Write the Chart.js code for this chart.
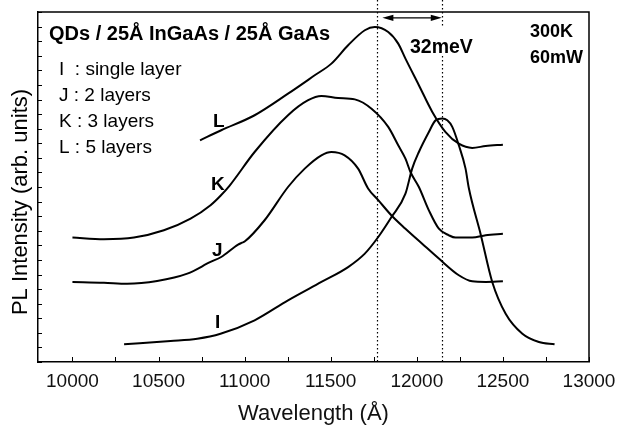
<!DOCTYPE html>
<html>
<head>
<meta charset="utf-8">
<script src="https://cdn.jsdelivr.net/npm/chart.js@4.4.1/dist/chart.umd.min.js"></script>
<style>
  html, body { margin: 0; padding: 0; background: #fff; }
  #wrap { width: 617px; height: 427px; }
</style>
</head>
<body>
<div id="wrap"><canvas id="plChart" width="617" height="427"></canvas></div>
<script>
// PL spectra, wavelength in Angstrom, intensity in arb. units (offset per curve)
const iWave = [10300, 10570, 10725, 10860, 11058, 11252, 11446, 11601, 11698, 11776, 11853, 11934, 11973, 12012, 12070, 12109, 12148, 12177, 12206, 12244, 12283, 12302, 12370, 12438, 12516, 12613, 12709, 12800];
const iVal  = [1.21, 1.44, 1.60, 1.94, 2.86, 4.23, 5.49, 6.51, 7.43, 8.57, 9.94, 11.54, 13.26, 14.40, 15.77, 16.57, 16.69, 16.57, 16.12, 14.86, 13.26, 11.93, 8.80, 5.49, 3.31, 1.94, 1.37, 1.21];

const jWave = [10000, 10183, 10318, 10492, 10667, 10802, 10864, 10962, 10985, 11000, 11116, 11252, 11349, 11446, 11504, 11581, 11659, 11717, 11776, 11853, 11934, 12031, 12128, 12244, 12322, 12400, 12500];
const jVal  = [5.49, 5.44, 5.37, 5.56, 6.06, 6.86, 7.20, 8.05, 8.18, 8.26, 9.72, 12.0, 13.26, 14.17, 14.40, 14.17, 13.26, 11.9, 11.1, 10.05, 9.14, 8.11, 7.09, 5.95, 5.53, 5.49, 5.53];

const kWave = [10000, 10183, 10357, 10531, 10686, 10802, 10860, 10913, 11058, 11252, 11369, 11446, 11543, 11640, 11737, 11834, 11892, 11934, 11963, 12012, 12070, 12128, 12186, 12225, 12322, 12400, 12500];
const kVal  = [8.53, 8.42, 8.53, 9.03, 9.83, 10.75, 11.40, 12.10, 14.40, 16.92, 17.95, 18.24, 18.10, 18.01, 17.37, 16.12, 14.86, 13.94, 13.03, 12.0, 10.40, 9.14, 8.69, 8.53, 8.53, 8.69, 8.80];

const lWave = [10741, 10864, 11058, 11252, 11407, 11504, 11601, 11698, 11756, 11834, 11892, 11934, 12012, 12090, 12167, 12244, 12322, 12400, 12500];
const lVal  = [15.20, 15.89, 16.92, 18.40, 19.66, 20.46, 21.72, 22.75, 22.97, 22.63, 21.83, 20.80, 18.98, 17.15, 15.77, 14.97, 14.68, 14.81, 14.90];

const xTicks = [10000, 10500, 11000, 11500, 12000, 12500, 13000];
const peakLines = [11767, 12145];   // dotted markers at the two peaks
const arrowSpan = [11800, 12145];
const arrowLevel = 23.6;

const legendLines = ["I  : single layer", "J : 2 layers", "K : 3 layers", "L : 5 layers"];

const FONT = 'Arial, "Liberation Sans", sans-serif';

function toPoints(xs, ys) {
  return xs.map((x, i) => ({ x: x, y: ys[i] }));
}

function curve(name, xs, ys) {
  return {
    label: name,
    data: toPoints(xs, ys),
    borderColor: "#000",
    borderWidth: 2,
    pointRadius: 0,
    fill: false,
    cubicInterpolationMode: "monotone"
  };
}

// extra drawing: box, inward ticks, peak markers, annotations
const decor = {
  id: "decor",
  beforeDatasetsDraw(chart) {
    const { ctx, chartArea, scales: { x } } = chart;
    ctx.save();
    ctx.strokeStyle = "#000";
    ctx.lineWidth = 1.2;
    ctx.setLineDash([1.5, 2.5]);
    peakLines.forEach(v => {
      const px = Math.round(x.getPixelForValue(v)) + 0.5;
      ctx.beginPath();
      ctx.moveTo(px, 0);
      ctx.lineTo(px, chartArea.bottom);
      ctx.stroke();
    });
    ctx.setLineDash([]);
    // gap behind the 32meV label
    ctx.fillStyle = "#fff";
    ctx.fillRect(409, 26, 68, 30);
    ctx.restore();
  },
  afterDraw(chart) {
    const { ctx, chartArea, scales: { x, y } } = chart;
    const { left, right, top, bottom } = chartArea;
    ctx.save();
    ctx.strokeStyle = "#000";
    ctx.lineWidth = 1.5;
    ctx.beginPath();
    ctx.moveTo(left, top);
    ctx.lineTo(right, top);
    ctx.lineTo(right, bottom);
    ctx.stroke();

    // inward ticks
    ctx.lineWidth = 1;
    ctx.beginPath();
    for (let v = 10000; v <= 13000; v += 250) {
      const px = Math.round(x.getPixelForValue(v)) + 0.5;
      ctx.moveTo(px, bottom);
      ctx.lineTo(px, bottom - 5);
    }
    for (let v = 0; v <= 24; v += 1) {
      const py = Math.round(y.getPixelForValue(v)) + 0.5;
      ctx.moveTo(left, py);
      ctx.lineTo(left + 4, py);
    }
    ctx.stroke();

    // double arrow between the peaks
    const ax1 = x.getPixelForValue(arrowSpan[0]);
    const ax2 = x.getPixelForValue(arrowSpan[1]);
    const ay = y.getPixelForValue(arrowLevel);
    ctx.lineWidth = 1.2;
    ctx.beginPath();
    ctx.moveTo(ax1 + 6, ay);
    ctx.lineTo(ax2 - 6, ay);
    ctx.stroke();
    ctx.fillStyle = "#000";
    ctx.beginPath();
    ctx.moveTo(ax1, ay);
    ctx.lineTo(ax1 + 11, ay - 3.2);
    ctx.lineTo(ax1 + 11, ay + 3.2);
    ctx.closePath();
    ctx.moveTo(ax2, ay);
    ctx.lineTo(ax2 - 11, ay - 3.2);
    ctx.lineTo(ax2 - 11, ay + 3.2);
    ctx.closePath();
    ctx.fill();

    // texts
    ctx.fillStyle = "#000";
    ctx.textAlign = "left";
    ctx.textBaseline = "alphabetic";
    ctx.font = "bold 20px " + FONT;
    ctx.fillText("QDs / 25\u00c5 InGaAs / 25\u00c5 GaAs", 49, 40);

    ctx.font = "19px " + FONT;
    legendLines.forEach((t, i) => ctx.fillText(t, 59, 75 + i * 26));

    ctx.font = "bold 19px " + FONT;
    ctx.fillText("L", 213, 127);
    ctx.fillText("K", 211, 190);
    ctx.fillText("J", 212, 256);
    ctx.fillText("I", 215, 328);

    ctx.font = "bold 19.5px " + FONT;
    ctx.fillText("32meV", 410, 52.5);
    ctx.font = "bold 18px " + FONT;
    ctx.fillText("300K", 530, 37);
    ctx.fillText("60mW", 530, 62.5);

    // y axis title
    ctx.save();
    ctx.translate(21, 202);
    ctx.rotate(-Math.PI / 2);
    ctx.font = "22px " + FONT;
    ctx.textAlign = "center";
    ctx.textBaseline = "middle";
    ctx.fillText("PL Intensity (arb. units)", 0, 0);
    ctx.restore();

    ctx.restore();
  }
};

const chart = new Chart(document.getElementById("plChart"), {
  type: "line",
  data: {
    datasets: [
      curve("I", iWave, iVal),
      curve("J", jWave, jVal),
      curve("K", kWave, kVal),
      curve("L", lWave, lVal)
    ]
  },
  options: {
    responsive: false,
    animation: false,
    devicePixelRatio: 1,
    layout: { padding: { left: 0, right: 0, top: 12, bottom: 0 } },
    plugins: {
      legend: { display: false },
      tooltip: { enabled: false }
    },
    scales: {
      x: {
        type: "linear",
        min: 9800,
        max: 13000,
        afterBuildTicks: s => { s.ticks = xTicks.map(v => ({ value: v })); },
        afterFit: s => { s.height = 65; s.paddingLeft = 0; s.paddingRight = 28; },
        grid: { display: false, drawTicks: false },
        border: { display: true, color: "#000", width: 1.5 },
        ticks: {
          autoSkip: false,
          maxRotation: 0,
          padding: 8,
          color: "#111",
          font: { family: FONT, size: 19 },
          callback: v => String(v)
        },
        title: {
          display: true,
          text: "Wavelength (\u00c5)",
          color: "#111",
          font: { family: FONT, size: 22 },
          padding: { top: 0, bottom: 0 }
        }
      },
      y: {
        type: "linear",
        min: 0,
        max: 24,
        afterFit: s => { s.width = 38; },
        grid: { display: false, drawTicks: false },
        border: { display: true, color: "#000", width: 1.5 },
        ticks: { display: false }
      }
    }
  },
  plugins: [decor]
});
</script>
</body>
</html>
